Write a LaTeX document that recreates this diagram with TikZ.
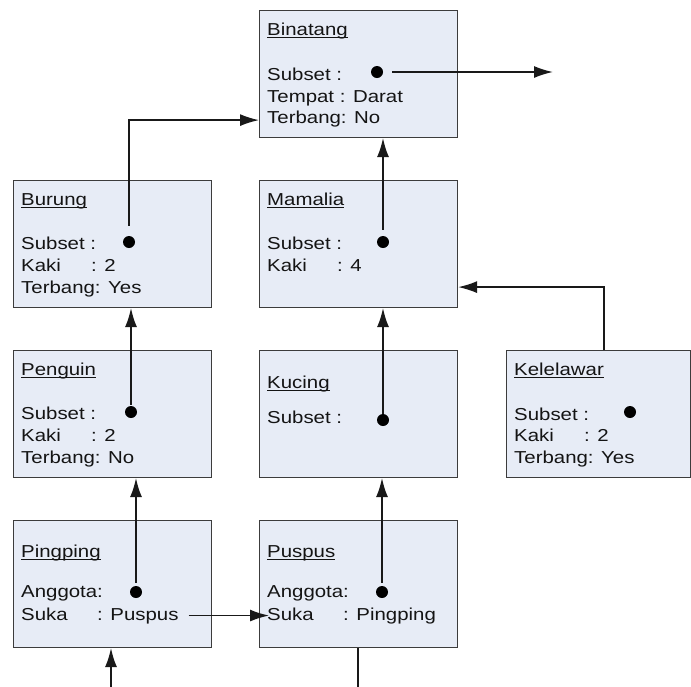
\documentclass[tikz,border=0pt]{standalone}
\usepackage{fontspec}
\setmainfont{Liberation Sans}[FakeStretch=1.18]
\usetikzlibrary{arrows.meta}
\definecolor{boxfill}{RGB}{231,236,246}
\definecolor{boxline}{RGB}{60,60,60}
\definecolor{ink}{RGB}{20,20,20}
% underline drawn at a fixed depth below the baseline
\newcommand\ulined[1]{\setbox0\hbox{#1}\rlap{\rule[-3pt]{\wd0}{0.9pt}}\box0}
% value column: label, then ": value" at a fixed offset
\newcommand\field[3]{\makebox[#1][l]{#2}#3}
\tikzset{
  framebox/.style={draw=boxline, line width=1.1pt, fill=boxfill, anchor=north west,
    minimum width=198pt, minimum height=127pt, inner sep=0pt},
  txt/.style={anchor=base west, inner sep=0pt, text=ink,
    font=\fontsize{17.3}{20}\selectfont},
  blob/.style={circle, fill=black, inner sep=0pt, minimum size=12pt},
  link/.style={line width=1.6pt, draw=black!90},
  arr/.style={link, -{Latex[length=19pt,width=12pt]}},
}
\begin{document}
\begin{tikzpicture}[x=1pt,y=-1pt]
\clip (0,0) rectangle (691,686);

% ---- frames ----
\node[framebox] (binatang)  at (259,10)  {};
\node[framebox] (burung)    at (13,180)  {};
\node[framebox] (mamalia)   at (259,180) {};
\node[framebox] (penguin)   at (13,350)  {};
\node[framebox] (kucing)    at (259,350) {};
\node[framebox, minimum width=184pt] (kelelawar) at (506,350) {};
\node[framebox] (pingping)  at (13,520)  {};
\node[framebox] (puspus)    at (259,520) {};

% ---- Binatang ----
\node[txt] (binatang-t) at (267,35)  {\ulined{Binatang}};
\node[txt] (binatang-a) at (267,80)  {Subset :};
\node[txt] (binatang-b) at (267,102) {Tempat : Darat};
\node[txt] (binatang-c) at (267,123) {Terbang: No};
\node[blob] (binatangdot) at (377,72) {};

% ---- Burung ----
\node[txt] (burung-t) at (21,205) {\ulined{Burung}};
\node[txt] (burung-a) at (21,249) {Subset :};
\node[txt] (burung-b) at (21,271) {\field{70pt}{Kaki}{: 2}};
\node[txt] (burung-c) at (21,293) {Terbang: Yes};
\node[blob] (burungdot) at (129,242) {};

% ---- Mamalia ----
\node[txt] (mamalia-t) at (267,205) {\ulined{Mamalia}};
\node[txt] (mamalia-a) at (267,249) {Subset :};
\node[txt] (mamalia-b) at (267,271) {\field{70pt}{Kaki}{: 4}};
\node[blob] (mamaliadot) at (383,242) {};

% ---- Penguin ----
\node[txt] (penguin-t) at (21,375) {\ulined{Penguin}};
\node[txt] (penguin-a) at (21,419) {Subset :};
\node[txt] (penguin-b) at (21,441) {\field{70pt}{Kaki}{: 2}};
\node[txt] (penguin-c) at (21,463) {Terbang: No};
\node[blob] (penguindot) at (131,412) {};

% ---- Kucing ----
\node[txt] (kucing-t) at (267,388) {\ulined{Kucing}};
\node[txt] (kucing-a) at (267,423) {Subset :};
\node[blob] (kucingdot) at (383,420) {};

% ---- Kelelawar ----
\node[txt] (kelelawar-t) at (514,375) {\ulined{Kelelawar}};
\node[txt] (kelelawar-a) at (514,420) {Subset :};
\node[txt] (kelelawar-b) at (514,441) {\field{70pt}{Kaki}{: 2}};
\node[txt] (kelelawar-c) at (514,463) {Terbang: Yes};
\node[blob] (kelelawardot) at (630,412) {};

% ---- Pingping ----
\node[txt] (pingping-t) at (21,557) {\ulined{Pingping}};
\node[txt] (pingping-a) at (21,597) {Anggota:};
\node[txt] (pingping-b) at (21,620) {\field{76pt}{Suka}{: Puspus}};
\node[blob] (pingpingdot) at (136,592) {};

% ---- Puspus ----
\node[txt] (puspus-t) at (267,557) {\ulined{Puspus}};
\node[txt] (puspus-a) at (267,597) {Anggota:};
\node[txt] (puspus-b) at (267,620) {\field{76pt}{Suka}{: Pingping}};
\node[blob] (puspusdot) at (382,592) {};

% ---- connectors ----
\coordinate (binout) at (553,72);
\draw[arr, shorten <=9pt] (binatangdot.east) -- (binout);
\draw[arr, shorten <=10pt] (burungdot.north) |- ([yshift=18pt]binatang.south west);
\draw[arr, shorten <=6pt] (mamaliadot.north) -- (mamaliadot.north |- binatang.south);
\draw[arr, shorten <=1pt] (penguindot.north) -- (penguindot.north |- burung.south);
\draw[arr] (kucingdot.north) -- (kucingdot.north |- mamalia.south);
\draw[arr] ([xshift=98pt]kelelawar.north west) |- ([yshift=21pt]mamalia.south east);
\draw[arr, shorten <=3pt] (pingpingdot.north) -- (pingpingdot.north |- penguin.south);
\draw[arr, shorten <=3pt] (puspusdot.north) -- (puspusdot.north |- kucing.south);
\draw[arr] ([xshift=10pt]pingping-b.east) -- ([xshift=10pt]pingping-b.east -| puspus.west);

% return path from Puspus back to Pingping, below the visible area
\coordinate (loopR) at (358,700);
\coordinate (loopL) at (111,700);
\draw[arr] (puspus.south -| loopR) -- (loopR) -- (loopL) -- (loopL |- pingping.south);
\end{tikzpicture}
\end{document}
